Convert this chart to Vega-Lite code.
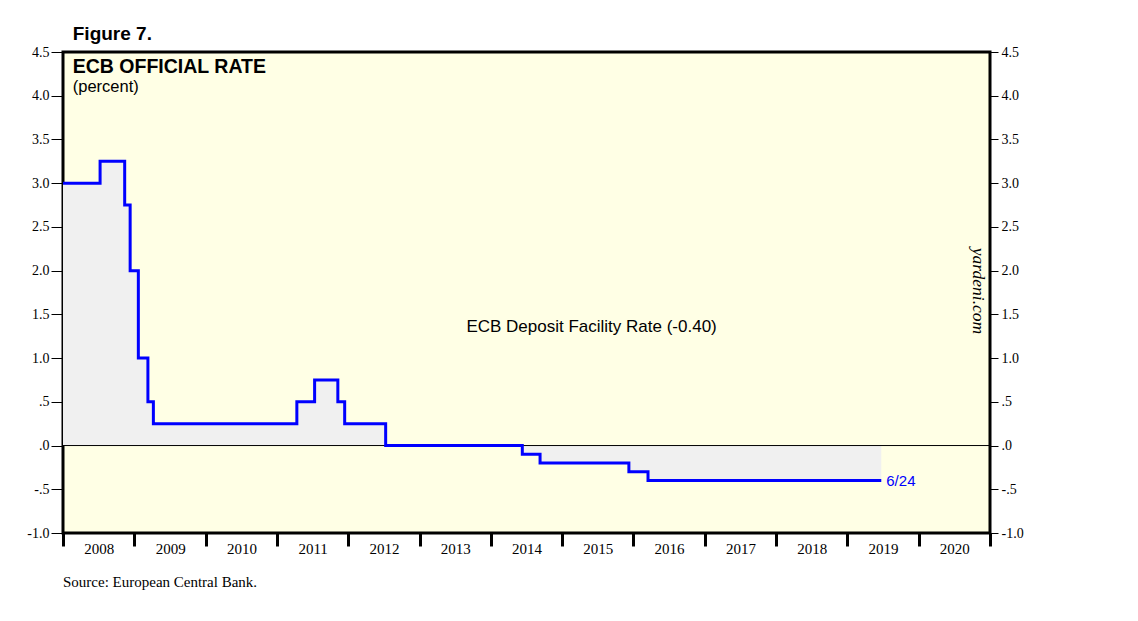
{
  "$schema": "https://vega.github.io/schema/vega-lite/v6.json",
  "width": 927,
  "height": 481,
  "autosize": {"type": "none"},
  "padding": {"left": 63, "top": 52, "right": 148, "bottom": 88},
  "background": "white",
  "config": {
    "view": {"fill": "#FFFFE5", "stroke": "black", "strokeWidth": 3},
    "axis": {"domain": false, "grid": false, "labelFont": "Liberation Serif", "labelFontSize": 14, "labelColor": "black", "tickColor": "black"}
  },
  "data": {
    "values": [
      {"date": "2008-01-01", "rate": 3.0},
      {"date": "2008-07-09", "rate": 3.25},
      {"date": "2008-11-12", "rate": 2.75},
      {"date": "2008-12-10", "rate": 2.0},
      {"date": "2009-01-21", "rate": 1.0},
      {"date": "2009-03-11", "rate": 0.5},
      {"date": "2009-04-08", "rate": 0.25},
      {"date": "2011-04-13", "rate": 0.5},
      {"date": "2011-07-13", "rate": 0.75},
      {"date": "2011-11-09", "rate": 0.5},
      {"date": "2011-12-14", "rate": 0.25},
      {"date": "2012-07-11", "rate": 0.0},
      {"date": "2014-06-11", "rate": -0.1},
      {"date": "2014-09-10", "rate": -0.2},
      {"date": "2015-12-09", "rate": -0.3},
      {"date": "2016-03-16", "rate": -0.4},
      {"date": "2019-06-24", "rate": -0.4}
    ]
  },
  "layer": [
    {
      "mark": {"type": "area", "interpolate": "step-after", "color": "#F0F0F0"},
      "encoding": {
        "x": {
          "field": "date", "type": "temporal",
          "scale": {"type": "utc", "domain": [{"year": 2008, "month": 1, "date": 1, "utc": true}, {"year": 2021, "month": 1, "date": 1, "utc": true}]},
          "axis": {
            "title": null,
            "values": [
              {"year": 2008, "month": 1, "date": 1, "utc": true},
              {"year": 2009, "month": 1, "date": 1, "utc": true},
              {"year": 2010, "month": 1, "date": 1, "utc": true},
              {"year": 2011, "month": 1, "date": 1, "utc": true},
              {"year": 2012, "month": 1, "date": 1, "utc": true},
              {"year": 2013, "month": 1, "date": 1, "utc": true},
              {"year": 2014, "month": 1, "date": 1, "utc": true},
              {"year": 2015, "month": 1, "date": 1, "utc": true},
              {"year": 2016, "month": 1, "date": 1, "utc": true},
              {"year": 2017, "month": 1, "date": 1, "utc": true},
              {"year": 2018, "month": 1, "date": 1, "utc": true},
              {"year": 2019, "month": 1, "date": 1, "utc": true},
              {"year": 2020, "month": 1, "date": 1, "utc": true},
              {"year": 2021, "month": 1, "date": 1, "utc": true}
            ],
            "labelExpr": "utcFormat(datum.value, '%Y') == '2021' ? '' : utcFormat(datum.value, '%Y')",
            "labelOffset": 35.7,
            "labelAlign": "center",
            "labelPadding": -5,
            "labelFontSize": 15,
            "tickSize": 13,
            "tickWidth": 3,
            "labelFlush": false,
            "labelOverlap": false,
            "labelBound": false
          }
        },
        "y": {
          "field": "rate", "type": "quantitative",
          "scale": {"domain": [-1, 4.5], "nice": false, "zero": false},
          "axis": {
            "orient": "left", "title": null,
            "values": [-1, -0.5, 0, 0.5, 1, 1.5, 2, 2.5, 3, 3.5, 4, 4.5],
            "labelExpr": "(datum.value < 0 ? '-' : '') + replace(format(abs(datum.value), '.1f'), '0.', '.')",
            "tickSize": 12, "tickWidth": 1, "labelPadding": 2
          }
        },
        "y2": {"datum": 0}
      }
    },
    {
      "data": {"values": [{}]},
      "mark": {"type": "rule", "color": "black", "strokeWidth": 1},
      "encoding": {"y": {"datum": 0, "type": "quantitative", "axis": null}}
    },
    {
      "mark": {"type": "line", "interpolate": "step-after", "color": "#0000FF", "strokeWidth": 3},
      "encoding": {
        "x": {"field": "date", "type": "temporal", "axis": null},
        "y": {
          "field": "rate", "type": "quantitative",
          "axis": {
            "orient": "right", "title": null,
            "values": [-1, -0.5, 0, 0.5, 1, 1.5, 2, 2.5, 3, 3.5, 4, 4.5],
            "labelExpr": "(datum.value < 0 ? '-' : '') + replace(format(abs(datum.value), '.1f'), '0.', '.')",
            "tickSize": 8, "tickWidth": 1, "labelPadding": 3
          }
        }
      }
    },
    {
      "data": {"values": [{}]},
      "mark": {"type": "text", "text": "Figure 7.", "font": "Liberation Sans", "fontWeight": "bold", "fontSize": 19, "align": "left", "baseline": "alphabetic", "dy": -12, "color": "black"},
      "encoding": {
        "x": {"datum": {"year": 2008, "month": 2, "date": 20, "utc": true}, "type": "temporal", "axis": null},
        "y": {"datum": 4.5, "type": "quantitative", "axis": null}
      }
    },
    {
      "data": {"values": [{}]},
      "mark": {"type": "text", "text": "ECB OFFICIAL RATE", "font": "Liberation Sans", "fontWeight": "bold", "fontSize": 19.5, "align": "left", "baseline": "alphabetic", "color": "black"},
      "encoding": {
        "x": {"datum": {"year": 2008, "month": 2, "date": 20, "utc": true}, "type": "temporal", "axis": null},
        "y": {"datum": 4.26, "type": "quantitative", "axis": null}
      }
    },
    {
      "data": {"values": [{}]},
      "mark": {"type": "text", "text": "(percent)", "font": "Liberation Sans", "fontSize": 16.5, "align": "left", "baseline": "alphabetic", "color": "black"},
      "encoding": {
        "x": {"datum": {"year": 2008, "month": 2, "date": 20, "utc": true}, "type": "temporal", "axis": null},
        "y": {"datum": 4.04, "type": "quantitative", "axis": null}
      }
    },
    {
      "data": {"values": [{}]},
      "mark": {"type": "text", "text": "ECB Deposit Facility Rate (-0.40)", "font": "Liberation Sans", "fontSize": 17, "align": "center", "baseline": "middle", "color": "black"},
      "encoding": {
        "x": {"datum": {"year": 2015, "month": 6, "date": 1, "utc": true}, "type": "temporal", "axis": null},
        "y": {"datum": 1.355, "type": "quantitative", "axis": null}
      }
    },
    {
      "data": {"values": [{}]},
      "mark": {"type": "text", "text": "6/24", "font": "Liberation Sans", "fontSize": 15, "align": "left", "baseline": "middle", "dx": 5, "color": "#0000FF"},
      "encoding": {
        "x": {"datum": {"year": 2019, "month": 6, "date": 24, "utc": true}, "type": "temporal", "axis": null},
        "y": {"datum": -0.4, "type": "quantitative", "axis": null}
      }
    },
    {
      "data": {"values": [{}]},
      "mark": {"type": "text", "text": "yardeni.com", "font": "Liberation Serif", "fontStyle": "italic", "fontSize": 17.5, "align": "center", "baseline": "middle", "angle": 90, "color": "black"},
      "encoding": {
        "x": {"datum": {"year": 2020, "month": 10, "date": 30, "utc": true}, "type": "temporal", "axis": null},
        "y": {"datum": 1.767, "type": "quantitative", "axis": null}
      }
    },
    {
      "data": {"values": [{}]},
      "mark": {"type": "text", "text": "Source: European Central Bank.", "font": "Liberation Serif", "fontSize": 15, "align": "left", "baseline": "alphabetic", "dy": 54, "color": "black"},
      "encoding": {
        "x": {"datum": {"year": 2008, "month": 1, "date": 1, "utc": true}, "type": "temporal", "axis": null},
        "y": {"datum": -1.0, "type": "quantitative", "axis": null}
      }
    }
  ],
  "resolve": {"axis": {"x": "independent", "y": "independent"}}
}
